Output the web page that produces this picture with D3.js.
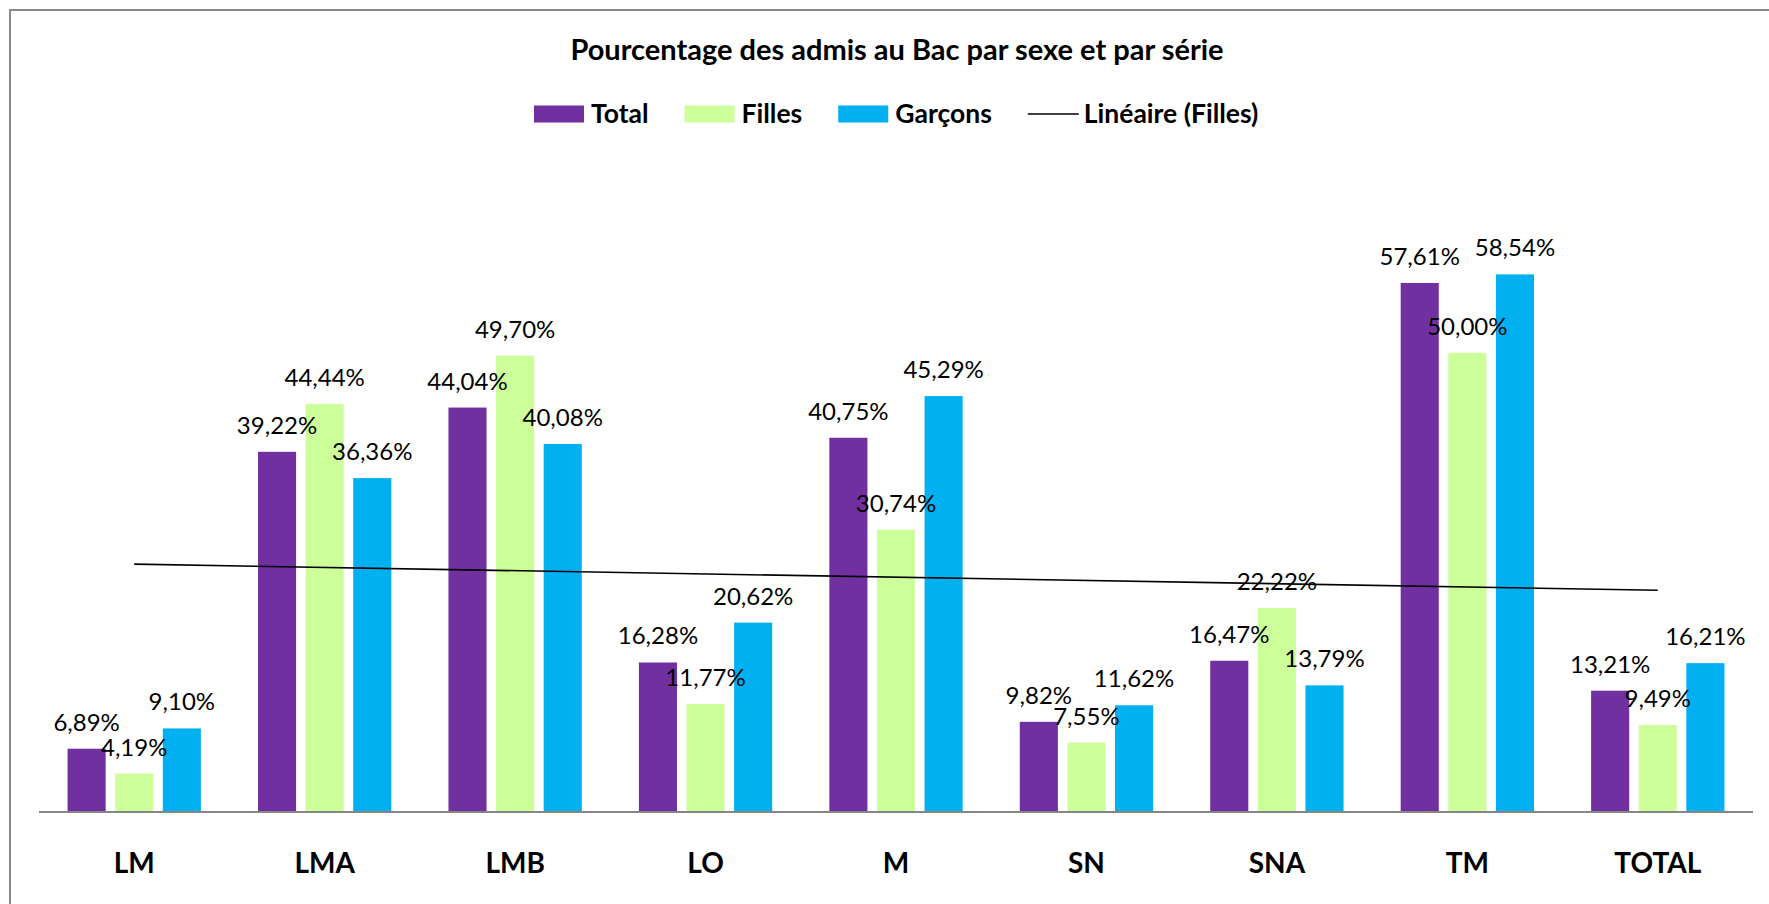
<!DOCTYPE html>
<html><head><meta charset="utf-8">
<script src="https://cdn.jsdelivr.net/npm/d3@7/dist/d3.min.js"></script>
<style>
html,body{margin:0;padding:0;background:#fff;overflow:hidden;}
svg{display:block;font-family:Lato, "Open Sans", sans-serif;}
</style></head>
<body>
<svg id="chart" width="1769" height="904"></svg>
<script>
const categories = ["LM","LMA","LMB","LO","M","SN","SNA","TM","TOTAL"];
const seriesNames = ["Total","Filles","Garçons"];
const totalValues = [6.89,39.22,44.04,16.28,40.75,9.82,16.47,57.61,13.21];
const fillesValues = [4.19,44.44,49.70,11.77,30.74,7.55,22.22,50.00,9.49];
const garconsValues = [9.10,36.36,40.08,20.62,45.29,11.62,13.79,58.54,16.21];
const colors = ["#7030A0","#CCFF99","#00B0F0"];
const titleText = "Pourcentage des admis au Bac par sexe et par série";
const trendLabel = "Linéaire (Filles)";

const series = [totalValues, fillesValues, garconsValues];
const svg = d3.select("#chart");

// frame
svg.append("rect").attr("x",10).attr("y",10).attr("width",1800).attr("height",950)
  .attr("fill","#fff").attr("stroke","#8a8a8a").attr("stroke-width",2);

const x0 = d3.scaleBand().domain(categories).range([39,1753]).paddingInner(0.3).paddingOuter(0.15);
const x1 = d3.scaleBand().domain(seriesNames).range([0,x0.bandwidth()]).paddingInner(0.2);
const y = d3.scaleLinear().domain([0,60]).range([812,261]);

const fmt = v => d3.format(".2f")(v).replace(".",",") + "%";

// bars
series.forEach((vals,si)=>{
  svg.append("g").selectAll("rect").data(vals).join("rect")
    .attr("x",(d,i)=>x0(categories[i])+x1(seriesNames[si]))
    .attr("y",d=>y(d))
    .attr("width",x1.bandwidth())
    .attr("height",d=>y(0)-y(d))
    .attr("fill",colors[si]);
});

// axis line
const xAxis = d3.axisBottom(x0).tickSize(0).tickPadding(0);
const gx = svg.append("g").attr("transform",`translate(0,${y(0)})`).call(xAxis);
gx.select(".domain").attr("stroke","#868686").attr("stroke-width",2).attr("d","M39,0H1753");
gx.selectAll(".tick text").attr("font-family","Lato").attr("font-weight","bold")
  .attr("font-size",28).attr("fill","#000").attr("dy",null).attr("y",61);

// trend line (least squares fit of Filles)
const n = fillesValues.length;
const xs = d3.range(1,n+1);
const mx = d3.mean(xs), my = d3.mean(fillesValues);
const slope = d3.sum(xs.map((xx,i)=>(xx-mx)*(fillesValues[i]-my))) / d3.sum(xs.map(xx=>(xx-mx)**2));
const icpt = my - slope*mx;
const trendPts = xs.map((xx,i)=>[x0(categories[i])+x0.bandwidth()/2, y(icpt+slope*xx)]);
svg.append("path").datum([trendPts[0],trendPts[n-1]])
  .attr("d",d3.line()).attr("stroke","#000").attr("stroke-width",1.6).attr("fill","none");

// data labels
series.forEach((vals,si)=>{
  svg.append("g").selectAll("text").data(vals).join("text")
    .attr("x",(d,i)=>x0(categories[i])+x1(seriesNames[si])+x1.bandwidth()/2)
    .attr("y",d=>y(d)-18)
    .attr("text-anchor","middle")
    .attr("font-family","Lato").attr("font-size",24).attr("fill","#000")
    .text(d=>fmt(d));
});

// title
svg.append("text").attr("x",897).attr("y",60).attr("text-anchor","middle")
  .attr("font-family","Lato").attr("font-weight","bold").attr("font-size",29).attr("fill","#000")
  .text(titleText);

// legend
const lg = svg.append("g");
let cx = 534;
const legendY = 114;
seriesNames.forEach((name,i)=>{
  lg.append("rect").attr("x",cx).attr("y",legendY-8.5).attr("width",50).attr("height",17).attr("fill",colors[i]);
  const t = lg.append("text").attr("x",cx+57).attr("y",legendY+9)
    .attr("font-family","Lato").attr("font-weight","bold").attr("font-size",26.5).attr("fill","#000").text(name);
  cx = cx + 57 + t.node().getComputedTextLength() + 36;
});
lg.append("line").attr("x1",cx).attr("x2",cx+51).attr("y1",legendY).attr("y2",legendY)
  .attr("stroke","#000").attr("stroke-width",1.6);
lg.append("text").attr("x",cx+56).attr("y",legendY+9)
  .attr("font-family","Lato").attr("font-weight","bold").attr("font-size",26.5).attr("fill","#000").text(trendLabel);
</script>
</body></html>
